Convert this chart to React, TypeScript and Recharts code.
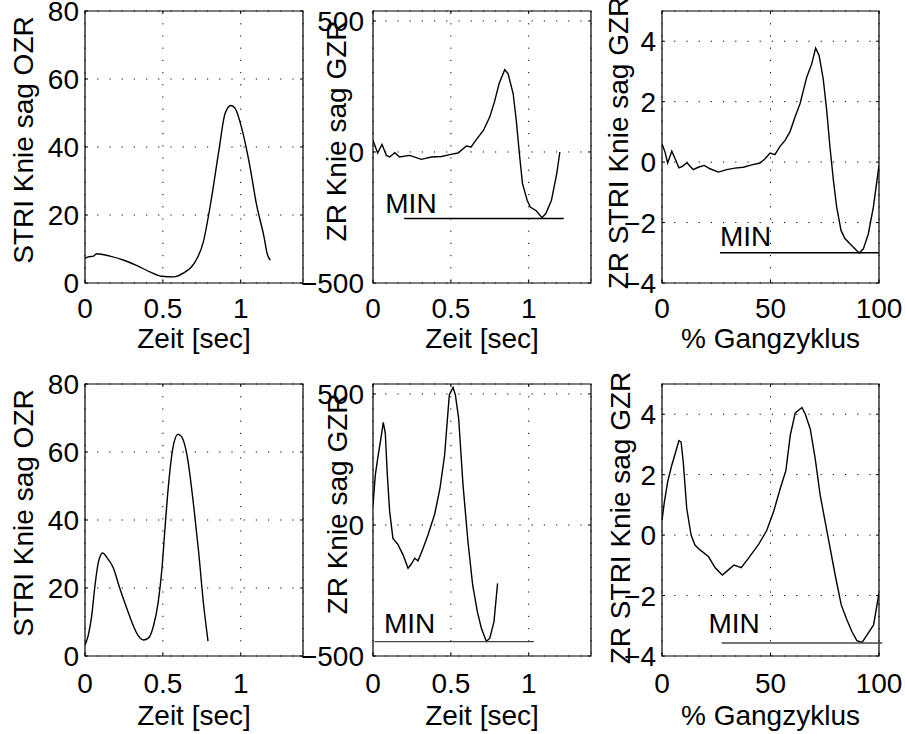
import React from "react";
import {
  LineChart,
  Line,
  XAxis,
  YAxis,
  CartesianGrid,
  ReferenceArea,
  ReferenceLine,
  ReferenceDot,
} from "recharts";

// top row: whole gait cycle in seconds / percent
const okTime = [0, 0.02, 0.054, 0.075, 0.16, 0.25, 0.33, 0.42, 0.49, 0.57, 0.63, 0.7, 0.76, 0.81, 0.86, 0.9, 0.937, 0.965, 1.01, 1.06, 1.1, 1.15, 1.17, 1.19];
const okAngle = [7.2, 7.7, 7.9, 8.6, 7.9, 6.7, 5.2, 3.2, 2.0, 1.8, 2.9, 5.7, 12.1, 24.3, 39, 49.9, 52.2, 51.3, 44.9, 34.1, 23.4, 13.5, 8.6, 6.7];

const gzTime = [0, 0.03, 0.058, 0.086, 0.107, 0.14, 0.17, 0.236, 0.31, 0.375, 0.44, 0.5, 0.546, 0.6, 0.63, 0.66, 0.71, 0.75, 0.78, 0.81, 0.846, 0.867, 0.9, 0.92, 0.94, 0.96, 0.99, 1.01, 1.05, 1.085, 1.11, 1.146, 1.18, 1.2];
const gzRate = [44, -4, 29, -13, -19, -3, -19, -13, -28, -19, -17, -9, -4, 23, 19, 44, 83, 134, 191, 261, 314, 299, 223, 121, -6, -121, -184, -210, -225, -251, -235, -184, -83, 0];

const zrCycle = [0, 1.4, 2.6, 4.5, 5.7, 7.8, 9.4, 11.5, 14.4, 16.7, 19.5, 22.1, 26, 29.8, 33.6, 37.5, 41.3, 45.2, 47.5, 49.8, 52, 54.4, 56.7, 59, 61.3, 63.6, 66.7, 69, 70.8, 72.4, 74.3, 75.9, 77.4, 79, 80.5, 82.5, 84.3, 86.6, 88.9, 90.8, 92.8, 95.1, 97.4, 100];
const zrValue = [0.61, 0.33, -0.03, 0.36, 0.17, -0.19, -0.14, -0.02, -0.25, -0.17, -0.11, -0.22, -0.33, -0.25, -0.2, -0.17, -0.09, -0.03, 0.11, 0.3, 0.25, 0.52, 0.72, 1.01, 1.49, 1.93, 2.81, 3.25, 3.77, 3.53, 2.75, 1.71, 0.5, -0.61, -1.49, -2.26, -2.53, -2.7, -2.87, -3.01, -2.87, -2.37, -1.49, -0.11];

// bottom row
const okTime2 = [0, 0.02, 0.043, 0.064, 0.086, 0.114, 0.139, 0.18, 0.225, 0.27, 0.31, 0.343, 0.375, 0.41, 0.44, 0.47, 0.494, 0.515, 0.536, 0.564, 0.597, 0.62, 0.655, 0.7, 0.73, 0.76, 0.79];
const okAngle2 = [3.2, 5.9, 11.8, 20.7, 27.6, 30.3, 29.1, 26.1, 19.7, 13.8, 8.9, 5.9, 4.7, 5.4, 8.9, 15.8, 25.6, 38.4, 50.2, 61.1, 65.2, 64.5, 59.1, 43.3, 30.5, 15.8, 4.4];

const gzTime2 = [0, 0.015, 0.032, 0.054, 0.066, 0.079, 0.092, 0.107, 0.128, 0.16, 0.193, 0.225, 0.246, 0.268, 0.289, 0.32, 0.353, 0.396, 0.43, 0.46, 0.49, 0.514, 0.529, 0.55, 0.578, 0.61, 0.64, 0.67, 0.696, 0.728, 0.75, 0.777, 0.8];
const gzRate2 = [76, 191, 261, 343, 392, 350, 191, 51, -51, -74, -114, -165, -149, -127, -137, -92, -38, 41, 140, 267, 496, 525, 496, 407, 153, -64, -229, -331, -394, -445, -432, -369, -223];

const zrCycle2 = [0, 1.1, 2.6, 4.5, 6.3, 7.8, 8.8, 9.8, 11.4, 13.4, 15.2, 17.5, 21.4, 24.5, 27.8, 30.6, 33.2, 36.5, 39.8, 44.5, 48.3, 51.4, 54.5, 57.1, 59.1, 61.4, 64.5, 66, 68.3, 70.6, 72.9, 75.2, 77.5, 79.8, 82.6, 85.2, 87.5, 89.8, 92.2, 94.5, 97.5, 100];
const zrValue2 = [0.49, 1.1, 1.76, 2.31, 2.75, 3.13, 3.08, 2.42, 0.88, 0, -0.33, -0.49, -0.71, -1.08, -1.32, -1.15, -0.99, -1.08, -0.77, -0.31, 0.16, 0.77, 1.54, 2.14, 3.3, 4.04, 4.22, 4.01, 3.52, 2.53, 1.32, 0.44, -0.44, -1.32, -2.31, -2.8, -3.19, -3.49, -3.55, -3.3, -2.97, -1.92];

// MIN markers: [line start, line end, level, text x, text y]
const minGz = [0.2, 1.225, -254, 0.079, -233];
const minZr = [26.7, 100, -3.0, 26.7, -2.79];
const minGz2 = [0.01, 1.034, -445, 0.07, -411];
const minZr2 = [27.5, 101.5, -3.57, 21.4, -3.24];

const timeTicks = [0, 0.5, 1];
const cycleTicks = [0, 50, 100];
const angleTicks = [0, 20, 40, 60, 80];
const rateTicks = [-500, 0, 500];
const zrTicks = [-4, -2, 0, 2, 4];

const FONT = "'Liberation Sans', Arial, Helvetica, sans-serif";
const FS = 28;
const ML = 84;
const MT = 24;
const MR = 30;
const MB = 84;

const fmt = (v: number) => (v < 0 ? "\u2212" + Math.abs(v) : String(v));
const toPoints = (xs: number[], ys: number[]) => xs.map((x, i) => ({ x, y: ys[i] }));

function Caption(props: any) {
  const { caption, px, py, rot } = props;
  return (
    <text
      x={px}
      y={py}
      textAnchor="middle"
      transform={rot ? `rotate(-90, ${px}, ${py})` : undefined}
      fontFamily={FONT}
      fontSize={FS}
      fill="#000"
    >
      {caption}
    </text>
  );
}

function MinText(props: any) {
  const vb = props.viewBox || {};
  return (
    <text x={vb.x} y={vb.y} fontFamily={FONT} fontSize={FS} fill="#000">
      MIN
    </text>
  );
}

interface PanelProps {
  left: number;
  top: number;
  w: number;
  h: number;
  xs: number[];
  ys: number[];
  smooth?: boolean;
  xDomain: [number, number];
  xTicks: number[];
  yDomain: [number, number];
  yTicks: number[];
  xTitle: string;
  yTitle: string;
  yTitleDx: number;
  yTitleDy: number;
  tickGap: number;
  xTickBase: number;
  xTitleBase: number;
  min?: number[];
  minColor?: string;
}

function Panel(p: PanelProps) {
  const W = p.w + ML + MR;
  const H = p.h + MT + MB;
  const bottom = MT + p.h;
  const curve = toPoints(p.xs, p.ys);

  const xTick = (t: any) => (
    <g>
      <line x1={t.x} x2={t.x} y1={bottom} y2={bottom - 3} stroke="#000" />
      <line x1={t.x} x2={t.x} y1={MT} y2={MT + 3} stroke="#000" />
      <text x={t.x} y={bottom + p.xTickBase} textAnchor="middle" fontFamily={FONT} fontSize={FS} fill="#000">
        {fmt(t.payload.value)}
      </text>
    </g>
  );
  const yTick = (t: any) => (
    <g>
      <line x1={ML} x2={ML + 3} y1={t.y} y2={t.y} stroke="#000" />
      <line x1={ML + p.w - 3} x2={ML + p.w} y1={t.y} y2={t.y} stroke="#000" />
      <text x={ML - p.tickGap} y={t.y} dy="0.36em" textAnchor="end" fontFamily={FONT} fontSize={FS} fill="#000">
        {fmt(t.payload.value)}
      </text>
    </g>
  );

  return (
    <div style={{ position: "absolute", left: p.left - ML, top: p.top - MT }}>
      <LineChart width={W} height={H} margin={{ top: MT, right: MR, bottom: 0, left: 0 }}>
        <CartesianGrid stroke="#000" strokeWidth={1} strokeDasharray="1.2 11" />
        <XAxis
          type="number"
          dataKey="x"
          domain={p.xDomain}
          ticks={p.xTicks}
          interval={0}
          allowDataOverflow
          axisLine={false}
          tickLine={false}
          height={MB}
          tick={xTick}
          label={<Caption caption={p.xTitle} px={ML + p.w / 2} py={bottom + p.xTitleBase} />}
        />
        <YAxis
          type="number"
          domain={p.yDomain}
          ticks={p.yTicks}
          interval={0}
          allowDataOverflow
          axisLine={false}
          tickLine={false}
          width={ML}
          tick={yTick}
          label={<Caption caption={p.yTitle} px={ML + p.yTitleDx} py={MT + p.h / 2 + p.yTitleDy} rot />}
        />
        <ReferenceArea
          x1={p.xDomain[0]}
          x2={p.xDomain[1]}
          y1={p.yDomain[0]}
          y2={p.yDomain[1]}
          fill="none"
          stroke="#000"
          strokeWidth={1.2}
          ifOverflow="visible"
        />
        <Line
          data={curve}
          dataKey="y"
          type={p.smooth ? "monotone" : "linear"}
          stroke="#000"
          strokeWidth={1.4}
          dot={false}
          isAnimationActive={false}
        />
        {p.min && (
          <ReferenceLine
            segment={[
              { x: p.min[0], y: p.min[2] },
              { x: p.min[1], y: p.min[2] },
            ]}
            stroke={p.minColor || "#000"}
            strokeWidth={1.4}
            ifOverflow="visible"
          />
        )}
        {p.min && (
          <ReferenceDot
            x={p.min[3]}
            y={p.min[4]}
            r={0}
            fill="none"
            stroke="none"
            ifOverflow="visible"
            label={<MinText />}
          />
        )}
      </LineChart>
    </div>
  );
}

export default function App() {
  const row1 = { top: 11, h: 272, xTickBase: 35, xTitleBase: 65 };
  const row2 = { top: 384, h: 272, xTickBase: 37, xTitleBase: 69 };
  return (
    <div style={{ position: "absolute", left: 0, top: 0, width: 905, height: 734, background: "#fff", overflow: "hidden" }}>
      <Panel {...row1} left={85} w={218} xs={okTime} ys={okAngle} smooth xDomain={[0, 1.4]} xTicks={timeTicks}
        yDomain={[0, 80]} yTicks={angleTicks} xTitle="Zeit [sec]" yTitle="STRI Knie sag OZR"
        yTitleDx={-52} yTitleDy={-7} tickGap={6} />
      <Panel {...row1} left={373} w={218} xs={gzTime} ys={gzRate} xDomain={[0, 1.4]} xTicks={timeTicks}
        yDomain={[-500, 538]} yTicks={rateTicks} xTitle="Zeit [sec]" yTitle="ZR Knie sag GZR"
        yTitleDx={-27} yTitleDy={-16} tickGap={9} min={minGz} />
      <Panel {...row1} left={662} w={217} xs={zrCycle} ys={zrValue} xDomain={[0, 100]} xTicks={cycleTicks}
        yDomain={[-4, 5]} yTicks={zrTicks} xTitle="% Gangzyklus" yTitle="ZR STRI Knie sag GZR"
        yTitleDx={-34} yTitleDy={-4} tickGap={6} min={minZr} />
      <Panel {...row2} left={85} w={218} xs={okTime2} ys={okAngle2} smooth xDomain={[0, 1.4]} xTicks={timeTicks}
        yDomain={[0, 80]} yTicks={angleTicks} xTitle="Zeit [sec]" yTitle="STRI Knie sag OZR"
        yTitleDx={-52} yTitleDy={-7} tickGap={6} />
      <Panel {...row2} left={373} w={218} xs={gzTime2} ys={gzRate2} xDomain={[0, 1.4]} xTicks={timeTicks}
        yDomain={[-500, 538]} yTicks={rateTicks} xTitle="Zeit [sec]" yTitle="ZR Knie sag GZR"
        yTitleDx={-26} yTitleDy={-16} tickGap={9} min={minGz2} minColor="#444" />
      <Panel {...row2} left={662} w={217} xs={zrCycle2} ys={zrValue2} xDomain={[0, 100]} xTicks={cycleTicks}
        yDomain={[-4, 5]} yTicks={zrTicks} xTitle="% Gangzyklus" yTitle="ZR STRI Knie sag GZR"
        yTitleDx={-32} yTitleDy={-2} tickGap={6} min={minZr2} minColor="#444" />
    </div>
  );
}
